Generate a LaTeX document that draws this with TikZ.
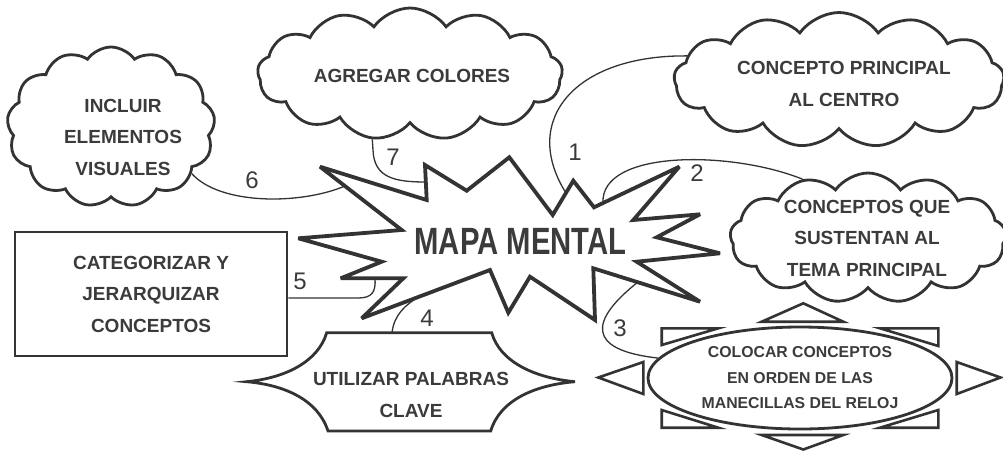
\documentclass[tikz,border=0pt]{standalone}
\usepackage{fontspec}
\setmainfont{Liberation Sans}
\newfontfamily\condfont{Liberation Sans}[FakeStretch=0.77]
\usetikzlibrary{shapes.symbols,shapes.geometric}
\definecolor{ink}{HTML}{333333}
\definecolor{txt}{HTML}{3B3B3B}
\begin{document}
\begin{tikzpicture}[x=1pt,y=-1pt,
  lbl/.style={text=txt, align=center, font=\fontsize{19}{31.5}\selectfont\bfseries},
  puff/.style={draw=ink, line width=2.8pt, fill=white, cloud, cloud puffs=13, cloud puff arc=110, cloud ignores aspect, inner sep=0pt},
  shapeline/.style={draw=ink, line width=2.8pt, fill=white},
  link/.style={draw=ink, line width=1.3pt},
  num/.style={text=txt, font=\fontsize{24}{24}\selectfont},
  tri/.style={draw=ink, line width=2.6pt, line join=miter, fill=white},
  starline/.style={draw=ink, line width=3.8pt, line join=miter, miter limit=4, fill=white}
]
\useasboundingbox (0,0) rectangle (1003,451);

% clouds (shapes)
\node[puff, minimum width=208pt, minimum height=160pt] (c1) at (111,127) {};
\node[puff, minimum width=305pt, minimum height=132pt] (c2) at (410,74) {};
\node[puff, minimum width=330pt, minimum height=135pt] (c3) at (839,80) {};
\node[puff, minimum width=276pt, minimum height=130pt] (c4) at (868,238) {};

% rectangle
\node[shapeline, lbl, minimum width=272pt, minimum height=124pt, inner sep=0pt] (r) at (151,294) {CATEGORIZAR Y\\JERARQUIZAR\\CONCEPTOS};

% concave hexagon
\draw[shapeline] (326.7,332.7) -- (491.7,332.7)
  .. controls (500,362) and (535,378) .. (575,381.7)
  .. controls (535,385) and (500,400) .. (490.7,431)
  -- (328,431)
  .. controls (318,400) and (285,385) .. (246.7,381.7)
  .. controls (285,378) and (318,362) .. (326.7,332.7) -- cycle;
\coordinate (h4) at (392,332.7);
\node[lbl] (h) at (411,395) {UTILIZAR PALABRAS\\CLAVE};

% triangles around ellipse
\draw[tri] (761.7,321.7) -- (843.3,321.7) -- (803.3,303.3) -- cycle;
\draw[tri] (761.7,435) -- (843.3,435) -- (803.3,449.5) -- cycle;
\draw[tri] (643.3,362) -- (643.3,394) -- (598.3,377.5) -- cycle;
\draw[tri] (956.7,362) -- (956.7,394) -- (1000.5,377.5) -- cycle;
\draw[tri] (661.7,328.3) -- (718.3,328.3) -- (661.7,345) -- cycle;
\draw[tri] (938.3,328.3) -- (880,328.3) -- (938.3,346) -- cycle;
\draw[tri] (661.7,427.7) -- (718.3,427.7) -- (661.7,410) -- cycle;
\draw[tri] (938.3,427.7) -- (880,427.7) -- (938.3,410) -- cycle;

% ellipse
\node[shapeline, ellipse, minimum width=304pt, minimum height=102pt, inner sep=0pt,
      text=txt, align=center, font=\fontsize{15.8}{25.5}\selectfont\bfseries] (e) at (800,378)
  {COLOCAR CONCEPTOS\\EN ORDEN DE LAS\\MANECILLAS DEL RELOJ};

% star attach points
\coordinate (s1) at (566,193);
\coordinate (s2) at (603,203);
\coordinate (s3) at (638,282);
\coordinate (s4) at (420,296);
\coordinate (s5) at (375,278.3);
\coordinate (s6) at (345,186);
\coordinate (s7) at (426,182);

% connectors
\draw[link] (c3.171) .. controls (575,55) and (520,120) .. (s1);
\draw[link] (c4.138) .. controls (730,150) and (600,150) .. (s2);
\draw[link] (e.172) .. controls (585,350) and (590,320) .. (s3);
\draw[link] (h4) .. controls (394,315) and (405,305) .. (s4);
\draw[link] ([yshift=-4pt]r.east) -- (358,298) .. controls (372,298) and (376,292) .. (s5);
\draw[link] (c1.-30) .. controls (220,205) and (300,205) .. (s6);
\draw[link] (c2.-120) -- (373,150) .. controls (374,178) and (395,182) .. (s7);

% star
\draw[starline] (320,166.7) -- (426.7,200) -- (425,165) -- (466.7,190.7) -- (509.3,157.3)
  -- (552.7,215) -- (573.3,180.7) -- (594,207.3) -- (679.3,166.7) -- (633.3,220)
  -- (700,214.3) -- (656.7,237.3) -- (720,253.3) -- (636.7,261.7) -- (700,301.7)
  -- (593.3,268.3) -- (595,320) -- (530,276.7) -- (508.3,312.7) -- (490,270)
  -- (361.7,318.3) -- (403.3,278.3) -- (340.7,278.3) -- (381.7,261.7) -- (298.3,238.3)
  -- (401.7,230) -- cycle;
\node[text=txt, font=\condfont\bfseries\fontsize{38}{38}\selectfont] (m) at (520.5,241.5) {MAPA MENTAL};

% cloud texts
\node[lbl] (t1) at (123,137) {INCLUIR\\ELEMENTOS\\VISUALES};
\node[lbl] (t2) at (412,76) {AGREGAR COLORES};
\node[lbl] (t3) at (844,84) {CONCEPTO PRINCIPAL\\AL CENTRO};
\node[lbl] (t4) at (867,238) {CONCEPTOS QUE\\SUSTENTAN AL\\TEMA PRINCIPAL};

% numbers
\node[num] (n1) at (575,152) {1};
\node[num] (n2) at (697,173) {2};
\node[num] (n3) at (620,328) {3};
\node[num] (n4) at (427,318) {4};
\node[num] (n5) at (300,281) {5};
\node[num] (n6) at (252,180) {6};
\node[num] (n7) at (393,157) {7};
\end{tikzpicture}
\end{document}
